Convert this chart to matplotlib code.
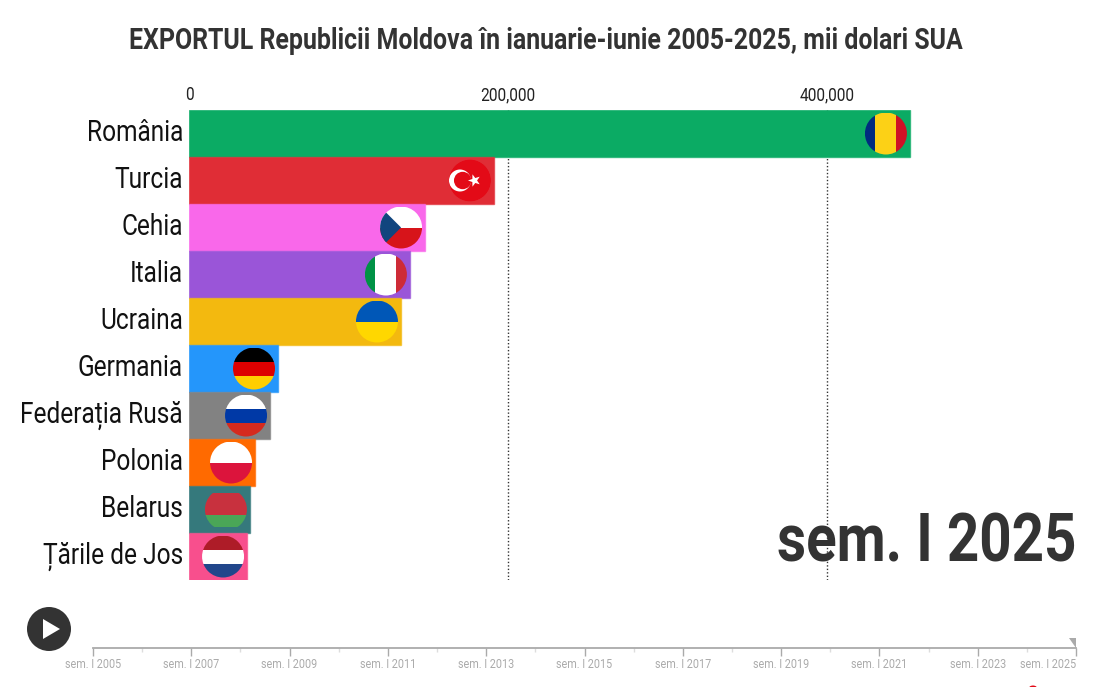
import numpy as np
import matplotlib
matplotlib.use('Agg')
import matplotlib.pyplot as plt
from matplotlib import font_manager
from matplotlib.patches import Circle, Rectangle, Polygon, PathPatch, Ellipse
from matplotlib.path import Path
from matplotlib.transforms import IdentityTransform, Affine2D
from matplotlib.colors import to_rgba
from fontTools.ttLib import TTFont

countries = ['România', 'Turcia', 'Cehia', 'Italia', 'Ucraina', 'Germania',
             'Federația Rusă', 'Polonia', 'Belarus', 'Țările de Jos']
values = [452000, 191200, 148000, 138500, 132900, 55800, 50800, 41400, 38200, 36400]
colors = ['#0bab64', '#e02d36', '#f968ea', '#9a55d8', '#f3b90f', '#2496fb',
          '#828282', '#ff6a00', '#35797c', '#f84f8d']
flag_kinds = ['ro', 'tr', 'cz', 'it', 'ua', 'de', 'ru', 'pl', 'by', 'nl']
value_ticks = [0, 200000, 400000]
value_labels = ['0', '200,000', '400,000']
years_major = [2005, 2007, 2009, 2011, 2013, 2015, 2017, 2019, 2021, 2023, 2025]
years_minor = [2006, 2008, 2010, 2012, 2014, 2016, 2018, 2020, 2022, 2024]
title = 'EXPORTUL Republicii Moldova în ianuarie-iunie 2005-2025, mii dolari SUA'
period = 'sem. I 2025'


# the reference uses Roboto Condensed, which is not installed: squeeze Roboto instead
def make_condensed(src, dst, sx=0.84):
    font = TTFont(src)
    glyf = font['glyf']
    for name in font.getGlyphOrder():
        g = glyf[name]
        if g.isComposite():
            for comp in g.components:
                comp.x = int(round(comp.x * sx))
        elif g.numberOfContours > 0:
            g.coordinates.scale((sx, 1))
            g.coordinates.toInt()
        adv, lsb = font['hmtx'][name]
        font['hmtx'][name] = (int(round(adv * sx)), int(round(lsb * sx)))
    for rec in font['name'].names:
        if rec.nameID in (1, 16):
            rec.string = 'Roboto Squeezed'
    font.save(dst)
    font_manager.fontManager.addfont(dst)


root = '/usr/share/fonts/truetype/roboto/unhinted/RobotoTTF/'
make_condensed(root + 'Roboto-Regular.ttf', 'squeezed-regular.ttf')
make_condensed(root + 'Roboto-Bold.ttf', 'squeezed-bold.ttf')
plt.rcParams['font.family'] = ['Roboto Squeezed', 'Roboto', 'DejaVu Sans']

W, H = 1106, 687
fig = plt.figure(figsize=(W / 100, H / 100), dpi=100)


def axes_px(left, top, right, bottom):
    return fig.add_axes([left / W, 1 - bottom / H, (right - left) / W, (bottom - top) / H])


# bars
ax = axes_px(189, 110, 1076, 580)
ax.set_xlim(0, 887 / 319 * 200000)
ax.set_ylim(9.5, -0.5)
ypos = np.arange(len(countries))
edges = [to_rgba(c, 0.65) for c in colors]
ax.barh(ypos, values, height=1, color=colors, edgecolor=edges, linewidth=1, zorder=2)
ax.xaxis.tick_top()
ax.set_xticks(value_ticks)
ax.set_xticklabels(value_labels, fontsize=13.3, color='#222222')
ax.set_yticks(ypos)
ax.set_yticklabels(countries, fontsize=21, color='#111111')
ax.tick_params(axis='both', length=0)
ax.tick_params(axis='x', pad=4)
ax.tick_params(axis='y', pad=4.3)
for lab in ax.get_yticklabels():
    lab.set_transform(lab.get_transform() + Affine2D().translate(0, 3.5))
for t in value_ticks[1:]:
    ax.axvline(t, color='#333333', lw=1, ls=(0, (1, 1.5)), zorder=1)
for s in ax.spines.values():
    s.set_visible(False)

# flags are drawn in pixels around the end of each bar
tr = IdentityTransform()
R = 21
OFFSET = 24


def add_flag(cx, cy, kind):
    clip = Circle((cx, cy), R, transform=tr)

    def put(p, z=3):
        p.set_transform(tr)
        p.set_zorder(z)
        fig.add_artist(p)
        p.set_clip_path(clip)

    def hstripes(cols, fracs=None, top=R, bottom=-R):
        fracs = fracs or [1 / len(cols)] * len(cols)
        y = cy + top
        for c, f in zip(cols, fracs):
            h = f * (top - bottom)
            put(Rectangle((cx - R, y - h), 2 * R, h, fc=c, ec='none'))
            y -= h

    def vstripes(cols, fracs=None):
        fracs = fracs or [1 / len(cols)] * len(cols)
        x = cx - R
        for c, f in zip(cols, fracs):
            put(Rectangle((x, cy - R), f * 2 * R, 2 * R, fc=c, ec='none'))
            x += f * 2 * R

    if kind == 'ro':
        vstripes(['#002b7f', '#fcd116', '#ce1126'], [0.25, 0.5, 0.25])
    elif kind == 'tr':
        put(Circle((cx, cy), R, fc='#e30a17', ec='none'))
        put(Circle((cx - 10, cy), 11, fc='white', ec='none'), 4)
        put(Circle((cx - 7.3, cy), 8.7, fc='#e30a17', ec='none'), 5)
        sp = PathPatch(Path.unit_regular_star(5, 0.4), fc='white', ec='none')
        sp.set_transform(Affine2D().rotate_deg(90).scale(6.5).translate(cx + 4.5, cy) + tr)
        sp.set_zorder(6)
        fig.add_artist(sp)
    elif kind == 'cz':
        hstripes(['white', '#d7141a'])
        put(Polygon([(cx - R, cy + R), (cx - R, cy - R), (cx, cy)], fc='#11457e', ec='none'), 4)
    elif kind == 'it':
        vstripes(['#009246', 'white', '#ce2b37'], [0.25, 0.5, 0.25])
    elif kind == 'ua':
        hstripes(['#0057b7', '#ffd700'])
    elif kind == 'de':
        hstripes(['#000000', '#dd0000', '#ffce00'])
    elif kind == 'ru':
        hstripes(['white', '#0039a6', '#d52b1e'])
    elif kind == 'pl':
        hstripes(['white', '#dc143c'])
    elif kind == 'by':
        hstripes(['#c8313e', '#4aa657'], [2 / 3, 1 / 3], 17, -17)
    elif kind == 'nl':
        hstripes(['#ae1c28', 'white', '#21468b'])


for i, (v, k) in enumerate(zip(values, flag_kinds)):
    px, py = ax.transData.transform((v, i))
    add_flag(px - OFFSET, py, k)

fig.text(545.5 / W, 1 - 41 / H, title, ha='center', va='center', fontsize=21.3,
         fontweight='bold', color='#333333')
fig.text(1076 / W, 1 - 562 / H, period, ha='right', va='baseline', fontsize=48.5,
         fontweight='bold', color='#333333', zorder=8)

# timeline
tl = axes_px(93, 646.5, 1076, 647.5)
tl.set_xlim(2005, 2025)
tl.set_ylim(0, 1)
tl.patch.set_visible(False)
for s in ['top', 'left', 'right']:
    tl.spines[s].set_visible(False)
tl.spines['bottom'].set_color('#aaaaaa')
tl.spines['bottom'].set_linewidth(1.3)
tl.set_yticks([])
tl.set_xticks(years_major)
tl.set_xticklabels(['sem. I %d' % y for y in years_major], fontsize=9.3, color='#aaaaaa')
tl.set_xticks(years_minor, minor=True)
tl.tick_params(axis='x', which='major', length=5.5, width=1, color='#aaaaaa', pad=2)
tl.tick_params(axis='x', which='minor', length=3, width=1, color='#dddddd')
tl.get_xticklabels()[-1].set_ha('right')

# current position marker
fig.add_artist(Polygon([(1069 / W, 1 - 638 / H), (1076 / W, 1 - 638 / H), (1076 / W, 1 - 648 / H)],
                       fc='#aaaaaa', ec='none', transform=fig.transFigure))

# play button
fig.add_artist(Ellipse((49 / W, 1 - 629 / H), 44 / W, 44 / H, fc='#333333', ec='none',
                       transform=fig.transFigure))
fig.add_artist(Polygon([(43 / W, 1 - 619 / H), (43 / W, 1 - 639 / H), (60 / W, 1 - 629 / H)],
                       fc='white', ec='none', transform=fig.transFigure))
fig.add_artist(Ellipse((1033 / W, 1 - 688 / H), 8 / W, 5 / H, fc='#e30a17', ec='none',
                       transform=fig.transFigure))

fig.savefig('out.png', dpi=100)
